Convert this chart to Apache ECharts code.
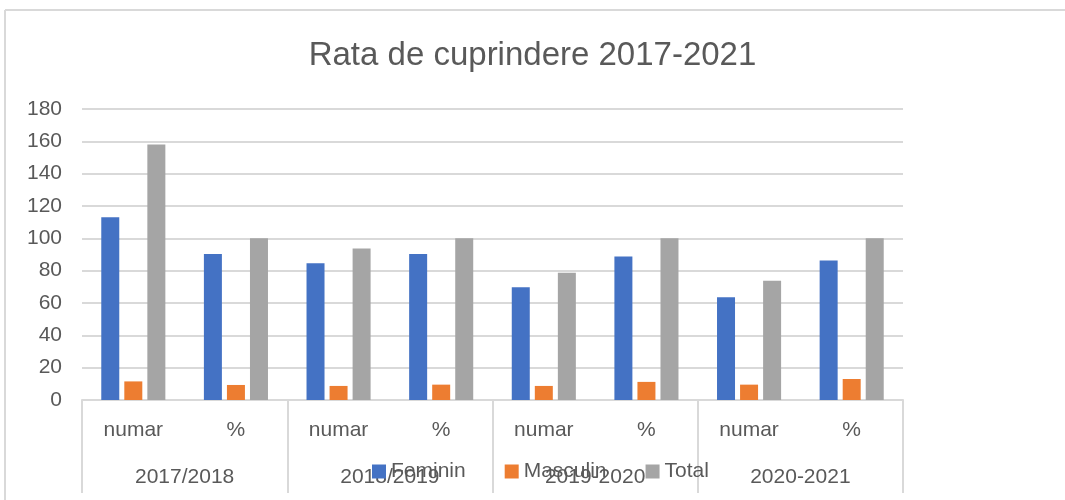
<!DOCTYPE html>
<html>
<head>
<meta charset="utf-8">
<script src="https://cdn.jsdelivr.net/npm/echarts@6/dist/echarts.min.js"></script>
<style>
  html, body { margin: 0; padding: 0; background: #fff; }
  #chart { width: 1065px; height: 500px; }
</style>
</head>
<body>
<div id="chart"></div>
<script>
const subCategories = ['numar', '%', 'numar', '%', 'numar', '%', 'numar', '%']
const groupCategories = ['2017/2018', '2018/2019', '2019-2020', '2020-2021']
const feminin = [113, 90.3, 84.6, 90.3, 69.7, 88.7, 63.5, 86.3]
const masculin = [11.5, 9.3, 8.7, 9.5, 8.7, 11.2, 9.5, 13]
const total = [158, 100, 93.7, 100, 78.7, 100, 73.7, 100]

const textColor = '#595959'
const lineColor = '#d9d9d9'
const font = 'Liberation Sans'

const chart = echarts.init(document.getElementById('chart'))

const barSeries = (name, data, color) => ({
  name,
  type: 'bar',
  xAxisIndex: 0,
  barWidth: 18,
  barGap: '28%',
  itemStyle: { color },
  data
})

chart.setOption({
  animation: false,
  textStyle: { fontFamily: font },
  title: {
    text: 'Rata de cuprindere 2017-2021',
    left: 'center',
    top: 34,
    textStyle: { fontSize: 33, fontWeight: 'normal', color: textColor, fontFamily: font }
  },
  legend: {
    left: 372,
    top: 461,
    padding: 0,
    itemWidth: 14,
    itemHeight: 14,
    itemGap: 39,
    icon: 'rect',
    textStyle: { fontSize: 21, color: textColor, fontFamily: font },
    data: ['Feminin', 'Masculin', 'Total']
  },
  grid: { left: 82, right: 162, top: 109, bottom: 100 },
  xAxis: [
    {
      type: 'category',
      data: subCategories,
      axisLine: { lineStyle: { color: lineColor, width: 2 } },
      axisTick: { show: false },
      axisLabel: { color: textColor, fontSize: 21, margin: 20, interval: 0 }
    },
    {
      type: 'category',
      data: groupCategories,
      position: 'bottom',
      axisLine: { show: false },
      axisTick: { show: true, length: 93, interval: 0, lineStyle: { color: lineColor, width: 2 } },
      axisLabel: { color: textColor, fontSize: 21, margin: 67, interval: 0 },
      splitLine: { show: false }
    }
  ],
  yAxis: {
    type: 'value',
    min: 0,
    max: 180,
    interval: 20,
    axisLine: { show: false },
    axisTick: { show: false },
    axisLabel: { color: textColor, fontSize: 21, margin: 20 },
    splitLine: { lineStyle: { color: lineColor, width: 2 } }
  },
  graphic: [
    { type: 'line', shape: { x1: 5, y1: 10, x2: 1065, y2: 10 }, style: { stroke: lineColor, lineWidth: 2 } },
    { type: 'line', shape: { x1: 5, y1: 10, x2: 5, y2: 500 }, style: { stroke: lineColor, lineWidth: 2 } }
  ],
  series: [
    barSeries('Feminin', feminin, '#4472C4'),
    barSeries('Masculin', masculin, '#ED7D31'),
    barSeries('Total', total, '#A5A5A5')
  ]
})
</script>
</body>
</html>
